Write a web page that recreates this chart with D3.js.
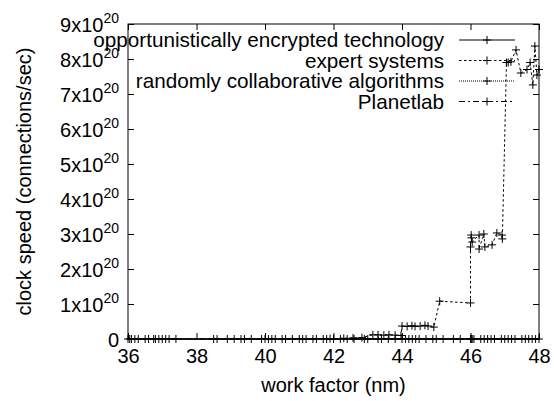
<!DOCTYPE html>
<html>
<head>
<meta charset="utf-8">
<script src="https://cdn.jsdelivr.net/npm/d3@7"></script>
<style>
  body { margin: 0; background: #fff; }
  svg { font-family: "Liberation Sans", Arial, sans-serif; }
</style>
</head>
<body>
<div class="chart"></div>
<script>
var margin = { top: 24, right: 15, bottom: 62, left: 128 };
var width = 554 - margin.left - margin.right;
var height = 401 - margin.top - margin.bottom;

// series names, in legend order
var seriesNames = [
  "opportunistically encrypted technology",
  "expert systems",
  "randomly collaborative algorithms",
  "Planetlab"
];
var dashes = [null, "2.5,2.5", "1,1", "6,3,2,3"];

// values near zero
var techX = [36.0, 36.1, 36.2, 36.5, 36.6, 36.75, 36.9, 37.0, 37.2, 37.4, 38.9, 39.1, 39.4, 39.9,
  40.1, 40.3, 40.6, 40.8, 41.1, 41.5, 41.8, 42.9, 43.3, 43.6, 44.0, 44.3, 44.5, 44.9, 45.2,
  46.0, 46.02, 46.1, 46.3, 46.5, 46.7, 46.9, 47.1, 47.3, 47.5, 47.8, 47.9, 48.0];
var techY = techX.map(function () { return 0; });

var expertX = [41.9, 42.3, 42.57, 42.83, 43.15, 43.3, 43.47, 43.62, 43.8, 43.97, 44.0, 44.15,
  44.29, 44.38, 44.53, 44.67, 44.76, 44.93, 45.1, 46.0, 46.0, 46.02, 46.03, 46.05, 46.25, 46.25,
  46.39, 46.42, 46.63, 46.77, 46.92, 46.93, 47.05, 47.1, 47.18, 47.33, 47.47, 47.65, 47.74,
  47.82, 47.88, 47.94, 48.0];
var expertY = [0.01e20, 0.02e20, 0.03e20, 0.04e20, 0.12e20, 0.12e20, 0.11e20, 0.12e20, 0.11e20,
  0.1e20, 0.37e20, 0.36e20, 0.38e20, 0.36e20, 0.37e20, 0.39e20, 0.37e20, 0.34e20, 1.08e20,
  1.03e20, 2.63e20, 2.97e20, 2.89e20, 2.77e20, 2.97e20, 2.57e20, 3.0e20, 2.63e20, 2.69e20,
  3.03e20, 2.97e20, 2.86e20, 7.9e20, 7.9e20, 7.92e20, 8.26e20, 7.6e20, 7.7e20, 7.9e20,
  7.26e20, 8.37e20, 7.54e20, 7.7e20];

var randomX = [36.3, 37.1, 38.5, 39.6, 40.0, 40.5, 41.0, 41.4, 42.0, 42.4, 43.0, 43.8, 44.2,
  44.7, 45.5, 46.05, 46.4, 47.0, 47.6];
var randomY = randomX.map(function () { return 0; });

var planetX = [36.05, 36.8, 38.6, 39.3, 40.2, 41.2, 41.7, 42.2, 42.6, 43.4, 44.1, 44.4, 45.0,
  45.7, 46.01, 46.6, 47.2, 47.7];
var planetY = planetX.map(function () { return 0; });

var xTicks = [36, 38, 40, 42, 44, 46, 48];
var yTicks = [0, 1, 2, 3, 4, 5, 6, 7, 8, 9];

var series = [
  { name: seriesNames[0], x: techX, y: techY },
  { name: seriesNames[1], x: expertX, y: expertY },
  { name: seriesNames[2], x: randomX, y: randomY },
  { name: seriesNames[3], x: planetX, y: planetY }
];

var svg = d3.select(".chart").append("svg")
  .attr("width", 554)
  .attr("height", 401)
  .append("g")
  .attr("transform", `translate(${margin.left}, ${margin.top})`);

var xScale = d3.scaleLinear().domain([36, 48]).range([0, width]);
var yScale = d3.scaleLinear().domain([0, 9e20]).range([height, 0]);

// ticks, inward, mirrored
var tickLen = 6;
svg.append("g")
  .attr("transform", `translate(0, ${height})`)
  .call(d3.axisBottom(xScale).tickValues(xTicks).tickSize(-tickLen).tickPadding(10).tickSizeOuter(0))
  .call(g => g.select(".domain").remove())
  .selectAll("text").style("font-size", "20px").attr("fill", "#000");
svg.append("g")
  .call(d3.axisTop(xScale).tickValues(xTicks).tickSize(-tickLen).tickFormat("").tickSizeOuter(0))
  .call(g => g.select(".domain").remove());

svg.append("g")
  .call(d3.axisLeft(yScale).tickValues(yTicks.map(d => d * 1e20)).tickSize(-tickLen).tickFormat("").tickSizeOuter(0))
  .call(g => g.select(".domain").remove());
svg.append("g")
  .attr("transform", `translate(${width}, 0)`)
  .call(d3.axisRight(yScale).tickValues(yTicks.map(d => d * 1e20)).tickSize(-tickLen).tickFormat("").tickSizeOuter(0))
  .call(g => g.select(".domain").remove());

svg.selectAll(".tick line").attr("stroke", "#000");

// y tick labels with superscript
var yLab = svg.append("g").selectAll("text")
  .data(yTicks)
  .enter()
  .append("text")
  .attr("x", -9)
  .attr("y", d => yScale(d * 1e20) + 8)
  .attr("text-anchor", "end")
  .style("font-size", "20px");
yLab.each(function (d) {
  var t = d3.select(this);
  if (d === 0) {
    t.text("0");
  } else {
    t.append("tspan").text(d + "x10");
    t.append("tspan").attr("dy", -9).style("font-size", "14px").text("20");
  }
});

// frame
svg.append("rect")
  .attr("width", width)
  .attr("height", height)
  .attr("fill", "none")
  .attr("stroke", "#000");

var line = d3.line()
  .x(d => xScale(d[0]))
  .y(d => yScale(d[1]));

function plus(g, pts) {
  g.selectAll("path.pt")
    .data(pts)
    .enter()
    .append("path")
    .attr("class", "pt")
    .attr("d", d => {
      var px = xScale(d[0]), py = yScale(d[1]);
      return `M${px - 4},${py}H${px + 4}M${px},${py - 4}V${py + 4}`;
    })
    .attr("stroke", "#000")
    .attr("stroke-width", 1);
}

series.forEach(function (s, i) {
  var pts = s.x.map((x, j) => [x, s.y[j]]);
  var g = svg.append("g");
  g.append("path")
    .attr("d", line(pts))
    .attr("fill", "none")
    .attr("stroke", "#000")
    .attr("stroke-width", i === 0 ? 1.5 : 1)
    .attr("stroke-dasharray", dashes[i]);
  plus(g, pts);
});

// legend, text right-aligned before the line samples
var legend = svg.append("g").attr("transform", `translate(${444 - margin.left}, 0)`);
seriesNames.forEach(function (name, i) {
  var y = 16 + i * 20.5;
  legend.append("text")
    .attr("x", 0)
    .attr("y", y + 7)
    .attr("text-anchor", "end")
    .style("font-size", "20.7px")
    .text(name);
  var lg = legend.append("g");
  lg.append("line")
    .attr("x1", 15).attr("x2", 71)
    .attr("y1", y).attr("y2", y)
    .attr("stroke", "#000")
    .attr("stroke-dasharray", dashes[i]);
  lg.append("path")
    .attr("d", `M39,${y}H47M43,${y - 4}V${y + 4}`)
    .attr("stroke", "#000");
});

// axis titles
svg.append("text")
  .attr("x", width / 2)
  .attr("y", height + 53)
  .attr("text-anchor", "middle")
  .style("font-size", "20px")
  .text("work factor (nm)");

svg.append("text")
  .attr("transform", `translate(${24 - margin.left}, ${height / 2}) rotate(-90)`)
  .attr("dy", "0.35em")
  .attr("text-anchor", "middle")
  .style("font-size", "20px")
  .text("clock speed (connections/sec)");
</script>
</body>
</html>
